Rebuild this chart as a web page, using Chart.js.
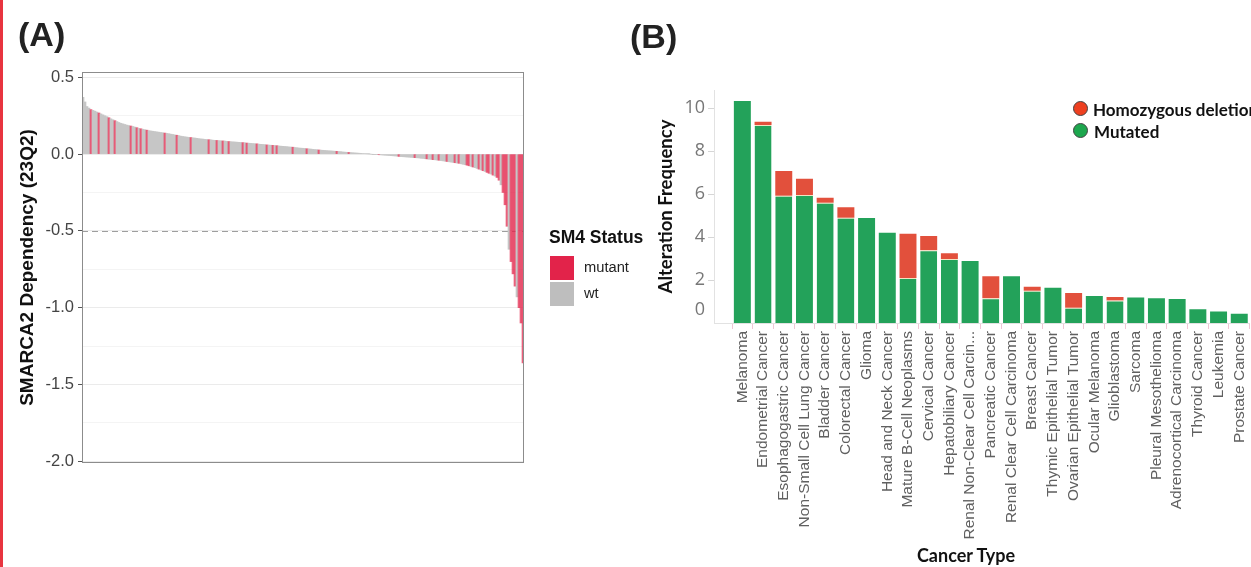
<!DOCTYPE html>
<html><head><meta charset="utf-8">
<script src="https://cdn.jsdelivr.net/npm/chart.js@4.4.0/dist/chart.umd.min.js"></script>
<style>
html,body{margin:0;padding:0;background:#fff;width:1251px;height:567px;overflow:hidden;position:relative}
#edge{position:absolute;left:0;top:0;width:3px;height:567px;background:#E8343F}
canvas{position:absolute;top:0}
#cA{left:0}
#cB{left:640px}
.panel{position:absolute;font-family:"Liberation Sans",Arial,sans-serif;font-weight:bold;font-size:34px;line-height:34px;color:#222}
.la{position:absolute;font-family:"Liberation Sans",Arial,sans-serif;white-space:nowrap}
.lb{position:absolute;font-family:Lato,"Open Sans",sans-serif;font-weight:bold;white-space:nowrap;color:#111}
.box{position:absolute;width:24px;height:24px}
.dot{position:absolute;width:13px;height:13px;border-radius:50%;border:1px solid #444}
</style></head>
<body>
<div id="edge"></div>
<canvas id="cA" width="545" height="567"></canvas>
<canvas id="cB" width="620" height="567"></canvas>
<div class="panel" style="left:18px;top:17px">(A)</div>
<div class="panel" style="left:630px;top:19px">(B)</div>

<div class="la" style="left:549px;top:229px;font-size:17.5px;line-height:17.5px;font-weight:bold;color:#111">SM4 Status</div>
<div class="box" style="left:550px;top:256px;background:#E2234A"></div>
<div class="box" style="left:550px;top:282px;background:#BEBEBE"></div>
<div class="la" style="left:584px;top:260px;font-size:14.7px;line-height:14.7px;color:#222">mutant</div>
<div class="la" style="left:584px;top:286px;font-size:14.7px;line-height:14.7px;color:#222">wt</div>

<div class="dot" style="left:1073px;top:101px;background:#EE4020"></div>
<div class="dot" style="left:1073px;top:123px;background:#1DA74E"></div>
<div class="lb" style="left:1093px;top:101px;font-size:17px;line-height:17px">Homozygous deletion</div>
<div class="lb" style="left:1094px;top:123px;font-size:17px;line-height:17px">Mutated</div>
<div class="lb" style="left:866px;width:200px;text-align:center;top:546px;font-size:18px;line-height:18px">Cancer Type</div>

<script>
// ---------- Panel A data ----------
const depValues = [
  0.37, 0.34, 0.31, 0.30, 0.29, 0.285, 0.28, 0.274, 0.268, 0.262,
  0.256, 0.25, 0.244, 0.237, 0.23, 0.224, 0.218, 0.212, 0.206, 0.201,
  0.197, 0.193, 0.189, 0.186, 0.183, 0.18, 0.176, 0.172, 0.168, 0.165,
  0.162, 0.159, 0.156, 0.153, 0.151, 0.149, 0.147, 0.145, 0.143, 0.141,
  0.139, 0.137, 0.135, 0.133, 0.13, 0.128, 0.125, 0.123, 0.12, 0.117,
  0.115, 0.113, 0.111, 0.109, 0.108, 0.106, 0.105, 0.103, 0.101, 0.099,
  0.098, 0.096, 0.095, 0.094, 0.093, 0.091, 0.09, 0.089, 0.088, 0.087,
  0.086, 0.085, 0.083, 0.082, 0.081, 0.08, 0.079, 0.078, 0.077, 0.076,
  0.075, 0.074, 0.072, 0.071, 0.07, 0.069, 0.068, 0.067, 0.065, 0.064,
  0.063, 0.062, 0.06, 0.059, 0.058, 0.057, 0.056, 0.055, 0.053, 0.052,
  0.051, 0.05, 0.049, 0.047, 0.046, 0.045, 0.043, 0.042, 0.04, 0.039,
  0.038, 0.037, 0.035, 0.034, 0.033, 0.031, 0.03, 0.029, 0.027, 0.026,
  0.025, 0.024, 0.023, 0.022, 0.021, 0.02, 0.019, 0.018, 0.017, 0.016,
  0.014, 0.013, 0.012, 0.011, 0.01, 0.009, 0.008, 0.007, 0.006, 0.005,
  0.004, 0.003, 0.002, 0.001, 0.0, -0.001, -0.002, -0.003, -0.004, -0.005,
  -0.006, -0.007, -0.008, -0.009, -0.01, -0.011, -0.012, -0.013, -0.015, -0.016,
  -0.017, -0.018, -0.019, -0.02, -0.021, -0.022, -0.023, -0.024, -0.025, -0.027,
  -0.028, -0.03, -0.031, -0.033, -0.034, -0.036, -0.037, -0.039, -0.04, -0.042,
  -0.044, -0.046, -0.048, -0.05, -0.052, -0.054, -0.056, -0.058, -0.06, -0.063,
  -0.066, -0.069, -0.072, -0.076, -0.08, -0.084, -0.088, -0.093, -0.098, -0.103,
  -0.108, -0.113, -0.119, -0.125, -0.13, -0.137, -0.143, -0.152, -0.17, -0.2,
  -0.25, -0.33, -0.47, -0.62, -0.7, -0.78, -0.86, -0.93, -1.0, -1.1,
  -1.36
];
// ranks (0-based) of SMARCA4-mutant cell lines
const mutantRanks = [4, 8, 13, 16, 24, 27, 29, 32, 41, 47, 54, 63, 67, 70, 73, 80, 82, 87, 92, 95,
  97, 105, 112, 118, 127, 133, 148, 158, 166, 172, 175, 178, 182, 186, 188, 192, 193, 195, 198, 200,
  202, 203, 205, 207, 208, 210, 211, 212, 214, 215, 216, 218, 219, 220];
const yTicksA = [-2.0, -1.75, -1.5, -1.25, -1.0, -0.75, -0.5, -0.25, 0.0, 0.25, 0.5];
const refLineA = -0.5;

// ---------- Panel B data ----------
const cancerTypes = ['Melanoma', 'Endometrial Cancer', 'Esophagogastric Cancer', 'Non-Small Cell Lung Cancer',
  'Bladder Cancer', 'Colorectal Cancer', 'Glioma', 'Head and Neck Cancer', 'Mature B-Cell Neoplasms',
  'Cervical Cancer', 'Hepatobiliary Cancer', 'Renal Non-Clear Cell Carcin...', 'Pancreatic Cancer',
  'Renal Clear Cell Carcinoma', 'Breast Cancer', 'Thymic Epithelial Tumor', 'Ovarian Epithelial Tumor',
  'Ocular Melanoma', 'Glioblastoma', 'Sarcoma', 'Pleural Mesothelioma', 'Adrenocortical Carcinoma',
  'Thyroid Cancer', 'Leukemia', 'Prostate Cancer'];
const mutatedFreq = [10.33, 9.21, 5.92, 5.95, 5.6, 4.9, 4.88, 4.2, 2.09, 3.38, 2.98, 2.88, 1.15,
  2.17, 1.5, 1.64, 0.71, 1.26, 1.05, 1.19, 1.15, 1.12, 0.64, 0.53, 0.43];
const homdelFreq = [0, 0.15, 1.15, 0.76, 0.23, 0.48, 0, 0, 2.06, 0.67, 0.26, 0, 1.02,
  0, 0.19, 0, 0.69, 0, 0.16, 0, 0, 0, 0, 0, 0];
const yTicksB = [0, 2, 4, 6, 8, 10];

// ---------- Panel A ----------
const SANS = '"Liberation Sans", Arial, sans-serif';
const MUT = 'rgba(226,35,74,0.72)';
const WT = '#C6C6C6';
const isMajor = v => Math.abs(v * 2 - Math.round(v * 2)) < 1e-9;

const rankLabels = depValues.map((_, i) => i + 1);
const barColorsA = depValues.map((_, i) => mutantRanks.includes(i) ? MUT : WT);

const refLinePlugin = {
  id: 'refLine',
  beforeDatasetsDraw(chart) {
    const {ctx, chartArea: a, scales: {y}} = chart;
    const py = Math.round(y.getPixelForValue(refLineA)) + 0.5;
    ctx.save();
    ctx.strokeStyle = '#9E9E9E';
    ctx.lineWidth = 1;
    ctx.setLineDash([6, 4]);
    ctx.beginPath(); ctx.moveTo(a.left, py); ctx.lineTo(a.right, py); ctx.stroke();
    ctx.restore();
  }
};
const borderPlugin = {
  id: 'panelBorder',
  afterDraw(chart) {
    const {ctx, chartArea: a} = chart;
    ctx.save();
    ctx.strokeStyle = '#8C8C8C';
    ctx.lineWidth = 1;
    ctx.strokeRect(a.left + 0.5, a.top + 0.5, a.width - 1, a.height - 1);
    ctx.restore();
  }
};

new Chart(document.getElementById('cA'), {
  type: 'bar',
  data: {
    labels: rankLabels,
    datasets: [{data: depValues, backgroundColor: barColorsA, borderWidth: 0,
      barPercentage: 1, categoryPercentage: 1}]
  },
  options: {
    responsive: false, animation: false, events: [],
    layout: {padding: {left: 0, right: 21, top: 72, bottom: 104}},
    plugins: {legend: {display: false}, tooltip: {enabled: false}},
    scales: {
      x: {display: false},
      y: {
        min: -2.012, max: 0.535,
        afterBuildTicks: s => { s.ticks = yTicksA.map(v => ({value: v})); },
        afterFit: s => { s.width = 82; },
        ticks: {
          callback: v => isMajor(v) ? v.toFixed(1) : '',
          color: '#444', font: {family: SANS, size: 16.5}, padding: 4
        },
        grid: {
          color: c => isMajor(c.tick.value) ? '#EBEBEB' : '#F4F4F4',
          lineWidth: 1, drawTicks: true, tickLength: 4,
          tickColor: c => isMajor(c.tick.value) ? '#555' : 'rgba(0,0,0,0)'
        },
        border: {display: false},
        title: {display: true, text: 'SMARCA2 Dependency (23Q2)', color: '#111',
          font: {family: SANS, size: 19, weight: 'bold'}, padding: {top: 16.6, bottom: 0}}
      }
    }
  },
  plugins: [refLinePlugin, borderPlugin]
});

// ---------- Panel B ----------
const axisBPlugin = {
  id: 'axisB',
  afterDraw(chart) {
    const {ctx, chartArea: a, scales: {y}} = chart;
    const ax = a.left - 18;
    ctx.save();
    ctx.lineWidth = 1;
    ctx.strokeStyle = '#E2E2E2';
    ctx.beginPath();
    ctx.moveTo(ax + 0.5, a.top); ctx.lineTo(ax + 0.5, a.bottom);
    ctx.moveTo(ax, a.bottom + 0.5); ctx.lineTo(a.right, a.bottom + 0.5);
    ctx.stroke();
    ctx.strokeStyle = '#D6D6D6';
    yTicksB.forEach(v => {
      if (v === 0) return;
      const py = Math.round(y.getPixelForValue(v)) + 0.5;
      ctx.beginPath(); ctx.moveTo(ax - 6, py); ctx.lineTo(ax, py); ctx.stroke();
    });
    ctx.fillStyle = '#777';
    ctx.font = '18px "Open Sans"';
    ctx.textAlign = 'right';
    ctx.textBaseline = 'middle';
    ctx.fillText('0', a.left - 27, y.getPixelForValue(0) - 13);
    ctx.restore();
  }
};

new Chart(document.getElementById('cB'), {
  type: 'bar',
  data: {
    labels: cancerTypes,
    datasets: [
      {label: 'Mutated', data: mutatedFreq, backgroundColor: '#23A25A',
        borderColor: '#F1E4C2',
        borderWidth: c => ({top: homdelFreq[c.dataIndex] > 0 ? 1 : 0, left: 0, right: 0, bottom: 0}),
        borderSkipped: 'start', barPercentage: 0.82, categoryPercentage: 1, stack: 's'},
      {label: 'Homozygous deletion', data: homdelFreq, backgroundColor: '#E2503C',
        borderWidth: 0, barPercentage: 0.82, categoryPercentage: 1, stack: 's'}
    ]
  },
  options: {
    responsive: false, animation: false, events: [],
    layout: {padding: {left: 0, right: 7, top: 90, bottom: 0}},
    plugins: {legend: {display: false}, tooltip: {enabled: false}},
    scales: {
      x: {
        stacked: true,
        afterFit: s => { s.height = 244; },
        ticks: {autoSkip: false, maxRotation: 90, minRotation: 90, color: '#606060',
          font: {family: SANS, size: 15.5}, padding: 2},
        grid: {drawOnChartArea: false, tickLength: 6, color: '#F0C6D6', tickColor: '#F0C6D6'},
        border: {display: false}
      },
      y: {
        stacked: true, min: 0, max: 10.84,
        afterBuildTicks: s => { s.ticks = yTicksB.map(v => ({value: v})); },
        afterFit: s => { s.width = 92; },
        ticks: {callback: v => v === 0 ? '' : String(v), color: '#777',
          font: {family: '"Open Sans", sans-serif', size: 18}, padding: 27},
        grid: {display: false, drawTicks: false},
        border: {display: false},
        title: {display: true, text: 'Alteration Frequency', color: '#111',
          font: {family: 'Lato, "Open Sans", sans-serif', size: 18.5, weight: 'bold'}, padding: {top: 15, bottom: 0}}
      }
    }
  },
  plugins: [axisBPlugin]
});
</script>
</body></html>
